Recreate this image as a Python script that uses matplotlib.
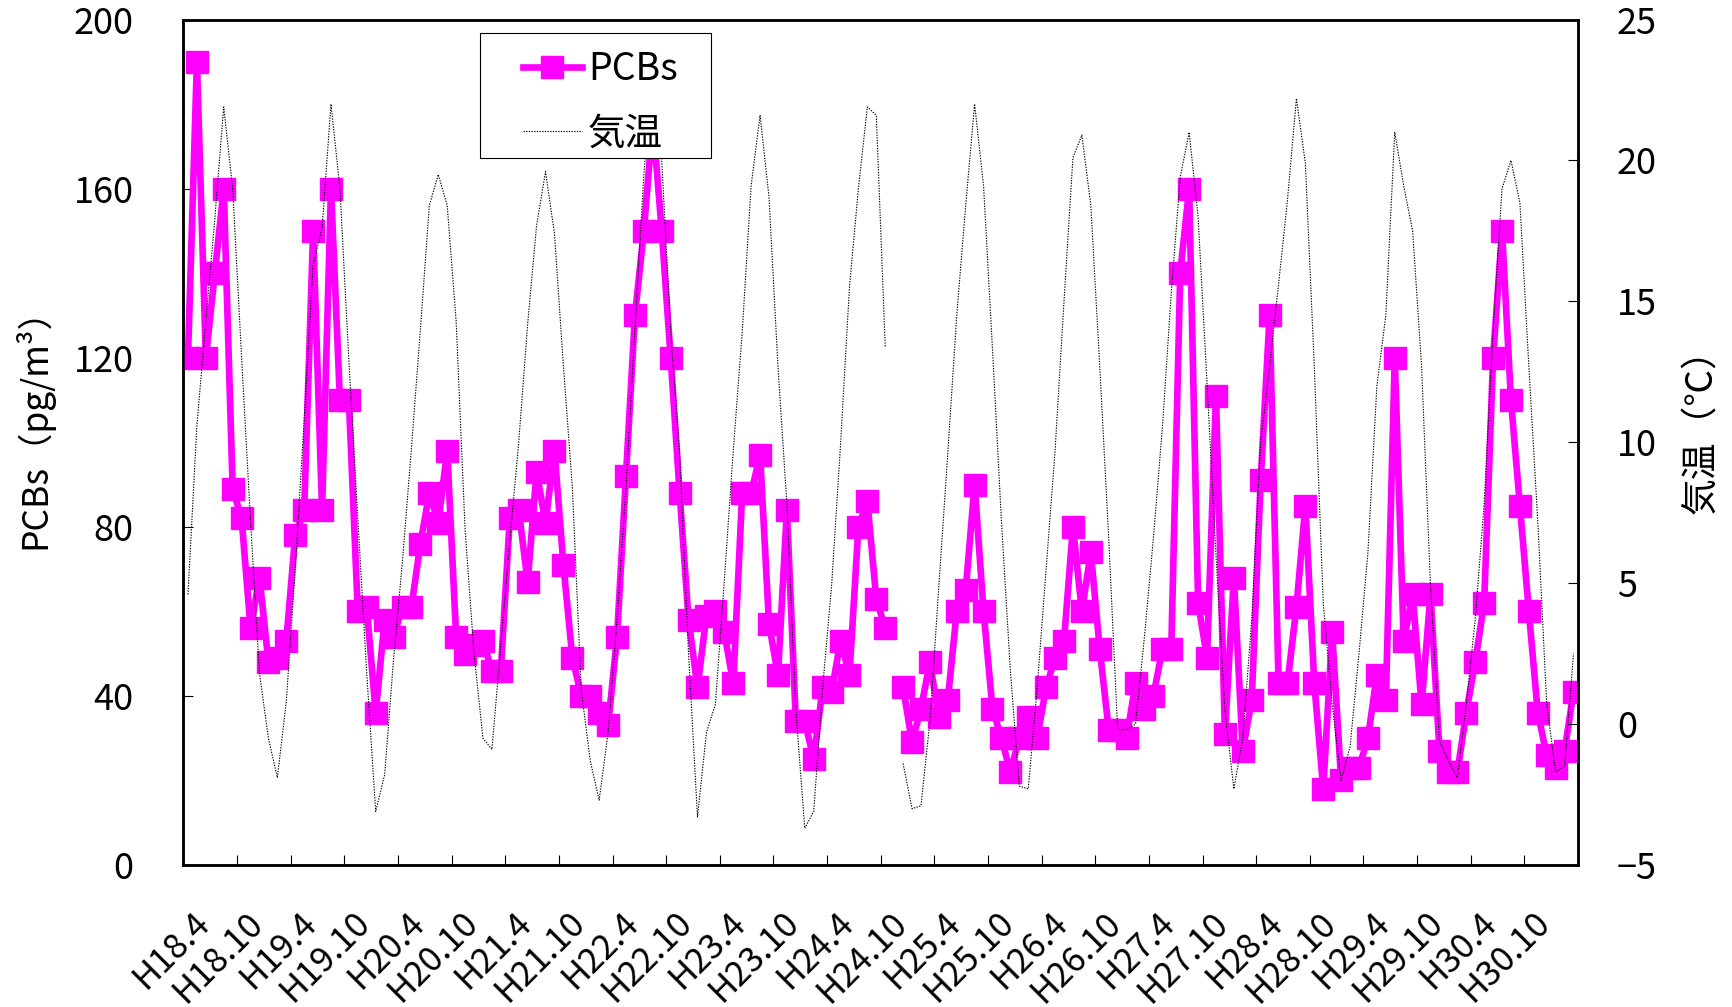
import matplotlib
matplotlib.use('Agg')
import matplotlib.pyplot as plt
import matplotlib.transforms as mtransforms
from matplotlib.lines import Line2D
from matplotlib.patches import Rectangle
import numpy as np

plt.rcParams['font.family'] = ['Noto Sans CJK JP', 'DejaVu Sans']

# monthly values, H18.4 .. H31.3 (None = no data)
pcbs = [120, 190, 120, 140, 160, 89, 82, 56, 68, 48, 49, 53,
        78, 84, 150, 84, 160, 110, 110, 60, 61, 36, 58, 54,
        61, 61, 76, 88, 81, 98, 54, 50, 52, 53, 46, 46,
        82, 84, 67, 93, 81, 98, 71, 49, 40, 40, 36, 33,
        54, 92, 130, 150, 176, 150, 120, 88, 58, 42, 59, 60,
        55, 43, 88, 88, 97, 57, 45, 84, 34, 34, 25, 42,
        41, 53, 45, 80, 86, 63, 56, None, 42, 29, 37, 48,
        35, 39, 60, 65, 90, 60, 37, 30, 22, 30, 35, 30,
        42, 49, 53, 80, 60, 74, 51, 32, 32, 30, 43, 37,
        40, 51, 51, 140, 160, 62, 49, 111, 31, 68, 27, 39,
        91, 130, 43, 43, 61, 85, 43, 18, 55, 20, 23, 23,
        30, 45, 39, 120, 53, 64, 38, 64, 27, 22, 22, 36,
        48, 62, 120, 150, 110, 85, 60, 36, 26, 23, 27, 41]

temps = [4.6, 10.6, 14.3, 17.9, 21.9, 19.0, 13.0, 7.2, 1.8, -0.5, -1.9, 0.8,
         5.5, 10.8, 16.3, 17.6, 22.0, 19.0, 12.9, 7.3, 1.8, -3.1, -1.8, 2.3,
         5.8, 9.8, 14.0, 18.4, 19.5, 18.4, 14.3, 6.9, 2.5, -0.5, -0.9, 2.8,
         6.5, 10.0, 14.2, 17.7, 19.6, 17.4, 12.7, 8.4, 1.2, -1.3, -2.7, -0.3,
         3.7, 8.4, 14.0, 19.5, 23.5, 20.0, 13.9, 9.6, 2.5, -3.3, -0.3, 0.7,
         5.1, 9.7, 13.9, 19.1, 21.6, 18.7, 12.7, 7.8, 0.5, -3.7, -3.1, 1.3,
         4.9, 9.9, 15.5, 19.0, 21.9, 21.6, 13.4, None, -1.4, -3.0, -2.9, 0.1,
         4.9, 9.6, 14.5, 18.4, 22.0, 19.1, 13.3, 7.2, 1.9, -2.2, -2.3, 1.3,
         5.5, 9.7, 15.0, 20.1, 20.9, 18.4, 12.7, 6.6, -0.2, -0.2, 0.0, 3.1,
         6.6, 10.5, 15.3, 19.4, 21.0, 18.0, 12.1, 6.0, 0.5, -2.3, -0.5, 3.7,
         10.0, 12.7, 15.6, 18.6, 22.2, 19.9, 12.7, 4.3, 0.7, -2.0, -0.8, 2.5,
         6.1, 12.0, 14.5, 21.0, 19.1, 17.5, 12.7, 4.9, -0.6, -1.3, -1.9, 0.7,
         3.7, 7.8, 13.9, 19.0, 20.0, 18.5, 12.7, 7.2, 0.7, -1.7, -1.5, 2.5]

tick_labels = ['H18.4', 'H18.10', 'H19.4', 'H19.10', 'H20.4', 'H20.10',
               'H21.4', 'H21.10', 'H22.4', 'H22.10', 'H23.4', 'H23.10',
               'H24.4', 'H24.10', 'H25.4', 'H25.10', 'H26.4', 'H26.10',
               'H27.4', 'H27.10', 'H28.4', 'H28.10', 'H29.4', 'H29.10',
               'H30.4', 'H30.10']

x = np.arange(len(pcbs))
pcb_arr = np.array([np.nan if v is None else v for v in pcbs], float)
temp_arr = np.array([np.nan if v is None else v for v in temps], float)

W, H = 1733, 1007
fig = plt.figure(figsize=(W / 100, H / 100), dpi=100)
L, R, T, B = 183.5, 1578, 19.5, 865
ax = fig.add_axes([L / W, 1 - B / H, (R - L) / W, (B - T) / H])

magenta = '#FF00FF'
ax.plot(x, pcb_arr, color=magenta, lw=4.8, marker='s', ms=15.6,
        mec=magenta, mfc=magenta, zorder=3)
ax.set_xlim(-0.5, len(pcbs) - 0.5)
ax.set_ylim(0, 200)
ax.set_yticks([0, 40, 80, 120, 160, 200])

# tick marks between categories, labels on categories
ax.set_xticks(np.arange(5.5, len(pcbs) - 1, 6))
ax.set_xticklabels([])
ax.set_xticks(np.arange(0, len(pcbs), 6), minor=True)
ax.set_xticklabels(tick_labels, minor=True, rotation=45, ha='right',
                   va='top', rotation_mode='anchor', fontsize=25)
ax.tick_params(axis='x', which='major', direction='in', length=7.2,
               width=0.8)
ax.tick_params(axis='x', which='minor', length=0, pad=29)
ax.tick_params(axis='y', direction='in', length=7.2, width=0.8,
               labelsize=26, pad=36)
offset = mtransforms.ScaledTranslation(4 / 100, 0, fig.dpi_scale_trans)
for lab in ax.get_xticklabels(minor=True):
    lab.set_transform(lab.get_transform() + offset)

ax2 = ax.twinx()
ax2.plot(x, temp_arr, color='black', lw=0.8, ls=(0, (1.2, 1.2)))
ax2.set_ylim(-5, 25)
ax2.set_yticks(range(-5, 26, 5))
ax2.tick_params(axis='y', direction='in', length=7.2, width=0.8,
                labelsize=26, pad=28)

for a in (ax, ax2):
    for s in a.spines.values():
        s.set_linewidth(1.8)
        s.set_color('black')

fig.text(33 / W, 1 - 420 / H, 'PCBs（pg/m³）', rotation=90,
         ha='center', va='center', fontsize=25.5)
fig.text(1702 / W, 1 - 422 / H, '気温（℃）', rotation=90,
         ha='center', va='center', fontsize=26.5)

# legend box
def ax_x(px):
    return (px - L) / (R - L)

def ax_y(py):
    return (B - py) / (B - T)

box = Rectangle((ax_x(480), ax_y(158)), ax_x(711) - ax_x(480),
                ax_y(33) - ax_y(158), transform=ax2.transAxes,
                facecolor='white', edgecolor='black', lw=0.8, zorder=4)
ax2.add_patch(box)
handles = [Line2D([], [], color=magenta, lw=4.8, marker='s', ms=15.6),
           Line2D([], [], color='black', lw=0.8, ls=(0, (1.2, 1.2)))]
leg = ax2.legend(handles, ['PCBs', '気温'], loc='upper left',
                 bbox_to_anchor=(ax_x(523), ax_y(50)), frameon=False,
                 borderpad=0, borderaxespad=0, handlelength=1.57,
                 handletextpad=0.16, labelspacing=0.68, fontsize=27)
leg.set_zorder(5)

fig.savefig('out.png', dpi=100)
